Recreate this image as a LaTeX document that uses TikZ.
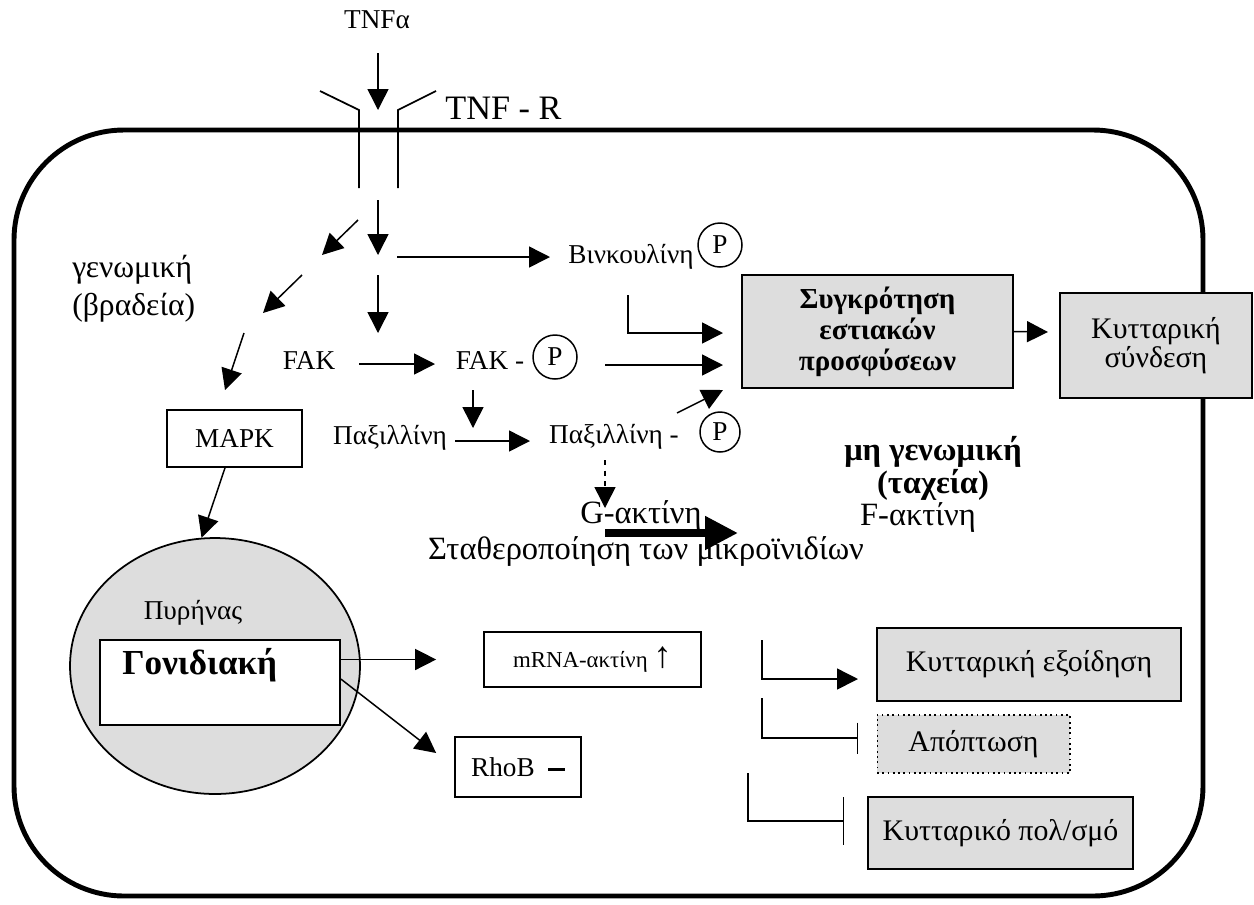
\documentclass[tikz,border=0pt]{standalone}
\usepackage{fontspec}
\setmainfont{Liberation Serif}
\usetikzlibrary{arrows.meta,shapes.geometric}
\definecolor{boxgray}{HTML}{DDDDDD}
\newcommand\fsmall{\fontsize{13}{15}\selectfont}
\newcommand\fnorm{\fontsize{15.5}{15}\selectfont}
\newcommand\fmid{\fontsize{17}{21}\selectfont}
\newcommand\fbig{\fontsize{18.5}{22}\selectfont}
\newcommand\fsyg{\fontsize{16.5}{17.6}\selectfont\bfseries}
\newcommand\fnong{\fontsize{18.5}{18.7}\selectfont\bfseries}
\newcommand\fgon{\fontsize{20}{24}\selectfont\bfseries}

\begin{document}
\begin{tikzpicture}
    [ x=0.02cm, y=-0.02cm
    , every node/.style={font=\fnorm}
    , arr/.style={-{Triangle[length=0.42cm,width=0.42cm]}, line width=0.85pt}
    , inh/.style={-{Bar[width=#1]}, line width=0.85pt}
    , box/.style={draw, line width=1pt, inner sep=0pt}
    , gbox/.style={box, fill=boxgray}
    , pcirc/.style={draw, circle, line width=0.85pt, inner sep=0pt, minimum size=0.88cm}
    ]
\useasboundingbox (0,0) rectangle (1254,904);

% cell and receptor
\draw[line width=2.8pt, rounded corners=2.2cm] (14,130) rectangle (1203,896);
\draw[line width=1pt] (320,91) -- (359,110) -- (359,188);
\draw[line width=1pt] (436,91) -- (398,110) -- (398,188);

\node (tnfa) at (377,20) {TNFα};
\node[font=\fontsize{19.5}{22}\selectfont, anchor=west, inner sep=0pt] (tnfr) at (445,108) {TNF - R};

\node (vinc) at (631,257) {Βινκουλίνη};
\node[pcirc] (pv) at (720,245) {P};
\node (fak) at (309,360) {FAK};
\node (fakp) at (490,360) {FAK -};
\node[pcirc] (pf) at (555,357) {P};
\node (pax) at (390,438) {Παξιλλίνη};
\node (paxp) at (614,437) {Παξιλλίνη -};
\node[pcirc, minimum size=0.8cm] (pp) at (720,432) {P};
\node[box, minimum width=2.7cm, minimum height=1.14cm] (mapk) at (234.5,438.5) {MAPK};
\node[font=\fontsize{18}{21.5}\selectfont, align=left, anchor=west, inner sep=0pt] (genom) at (72,289) {γενωμική\\(βραδεία)};

\node[font=\fbig] (gakt) at (641,515) {G-ακτίνη};
\node[font=\fbig] (stath) at (646,552) {Σταθεροποίηση των μικροϊνιδίων};
\node[font=\fbig] (fakt) at (918,517) {F-ακτίνη};
\node[font=\fnong, align=center] (nongen) at (933,468) {μη γενωμική\\(ταχεία)};

\node[gbox, minimum width=5.42cm, minimum height=2.26cm, font=\fsyg, align=center] (focal) at (877.5,331.5) {Συγκρότηση\\εστιακών\\προσφύσεων};
\node[gbox, minimum width=3.84cm, minimum height=2.1cm, align=center, font=\fontsize{17}{15}\selectfont] (sind) at (1156,345.5) {Κυτταρική\\σύνδεση};

% nucleus
\node[ellipse, draw, fill=boxgray, line width=1pt, minimum width=5.8cm, minimum height=5.12cm] (nuc) at (215,666) {};
\node (pyr) at (193,613) {Πυρήνας};
\node[box, fill=white, minimum width=4.8cm, minimum height=1.7cm] (gen) at (220,682.5) {};
\node[font=\fgon, anchor=west, inner sep=0pt] (gentxt) at (122,665) {Γονιδιακή};

\node[box, minimum width=4.34cm, minimum height=1.1cm, font=\fsmall] (mrna) at (592.5,659.5) {mRNA-ακτίνη {\fontsize{21}{21}\selectfont ↑}};
\node[box, minimum width=2.52cm, minimum height=1.2cm] (rhob) at (518,767) {RhoB\enspace\rule[0.11cm]{0.33cm}{0.065cm}};
\node[gbox, minimum width=6.08cm, minimum height=1.46cm, font=\fmid] (exo) at (1029,664.5) {Κυτταρική εξοίδηση};
\node[gbox, dotted, line width=0.6pt, minimum width=3.86cm, minimum height=1.16cm, font=\fmid] (apo) at (973.5,744) {Απόπτωση};
\node[gbox, minimum width=5.3cm, minimum height=1.44cm, font=\fmid] (pol) at (1000.5,833) {Κυτταρικό πολ/σμό};

% free ends of the arrows
\coordinate (lig) at (378,53);   \coordinate (rc) at (378,110);
\coordinate (s0) at (378,200);   \coordinate (s1) at (378,255);
\coordinate (s2) at (378,275);   \coordinate (s3) at (378,333);
\coordinate (d0) at (358,220);   \coordinate (d1) at (322,255);
\coordinate (d2) at (302,275);   \coordinate (d3) at (263,313);
\coordinate (d4) at (244,333);   \coordinate (d5) at (225,390);
\coordinate (h0) at (397,257);   \coordinate (h1) at (550,257);
\coordinate (f0) at (359,364);   \coordinate (f1) at (435,364);
\coordinate (f2) at (605,365);   \coordinate (f3) at (723,365);
\coordinate (b0) at (628,295);   \coordinate (b1) at (723,333);
\coordinate (q0) at (677,413);   \coordinate (q1) at (723,390);
\coordinate (v0) at (473,390);   \coordinate (v1) at (473,428);
\coordinate (x0) at (455,441);   \coordinate (x1) at (530,441);
\coordinate (g0) at (605,460);   \coordinate (g1) at (605,508);
\coordinate (t0) at (605,533);   \coordinate (t1) at (738,533);
\coordinate (fs) at (1048,332);
\coordinate (e1) at (762,640);   \coordinate (e1t) at (858,679);
\coordinate (e2) at (762,698);   \coordinate (e2t) at (858,738);
\coordinate (e3) at (748,773);   \coordinate (e3t) at (844,821);

\draw[arr] (lig) -- (rc);
\draw[arr] (s0) -- (s1);
\draw[arr] (s2) -- (s3);
\draw[arr] (d0) -- (d1);
\draw[arr] (d2) -- (d3);
\draw[arr] (d4) -- (d5);
\draw[arr] (h0) -- (h1);
\draw[arr] (f0) -- (f1);
\draw[arr] (f2) -- (f3);
\draw[arr] (b0) |- (b1);
\draw[arr] (q0) -- (q1);
\draw[arr] (v0) -- (v1);
\draw[arr] (x0) -- (x1);
\draw[arr, dashed] (g0) -- (g1);
\draw[line width=4.5pt, -{Triangle[length=0.66cm,width=0.64cm]}] (t0) -- (t1);
\draw[arr] (focal.east) -- (fs);
\draw[arr] ([xshift=-0.19cm]mapk.south) -- (nuc.96);
\draw[arr] (gen.east |- mrna) -- ([xshift=-0.94cm]mrna.west);
\draw[arr] ([yshift=0.07cm]gen.east) -- ([shift={(-0.36cm,0.28cm)}]rhob.west);
\draw[arr] (e1) |- (e1t);
\draw[inh=0.62cm] (e2) |- (e2t);
\draw[inh=0.96cm] (e3) |- (e3t);

\end{tikzpicture}
\end{document}
